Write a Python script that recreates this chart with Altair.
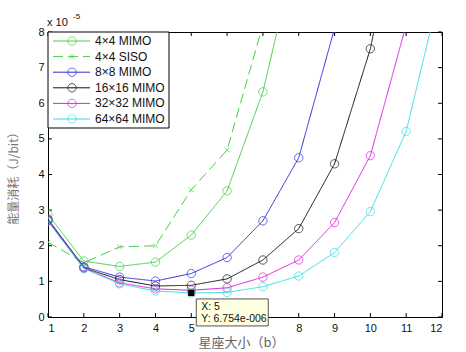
import altair as alt
import pandas as pd

# ---------------- data (values in units of 1e-5 J/bit) ----------------
x_vals = [1, 2, 3, 4, 5, 6, 7, 8, 9, 10, 11, 12]
series_names = ["4×4 MIMO", "4×4 SISO", "8×8 MIMO", "16×16 MIMO", "32×32 MIMO", "64×64 MIMO"]
series_colors = ["#44d044", "#44d044", "#2a2ae0", "#111111", "#e020e0", "#33e0e0"]
mimo4 = [2.88, 1.57, 1.42, 1.54, 2.30, 3.54, 6.32, 10.6]
siso4 = [2.10, 1.52, 1.97, 2.00, 3.57, 4.69, 8.2]
mimo8 = [2.75, 1.41, 1.12, 1.01, 1.22, 1.67, 2.70, 4.47, 8.1]
mimo16 = [2.72, 1.38, 1.05, 0.87, 0.89, 1.07, 1.60, 2.48, 4.30, 7.53, 12.5]
mimo32 = [2.70, 1.37, 0.96, 0.79, 0.75, 0.82, 1.12, 1.60, 2.65, 4.53, 8.2]
mimo64 = [2.68, 1.36, 0.93, 0.73, 0.675, 0.69, 0.85, 1.15, 1.81, 2.96, 5.21, 9.4]
series_values = [mimo4, siso4, mimo8, mimo16, mimo32, mimo64]
y_ticks = [0, 1, 2, 3, 4, 5, 6, 7, 8]
tip_x = 5
tip_y = 0.6754
tip_lines = ["X: 5", "Y: 6.754e-006"]

W, H = 394, 285
LABEL_FONT = "Liberation Sans"
CJK_FONT = "Noto Sans CJK SC"

xs = alt.Scale(domain=[1, 12], nice=False, zero=False)
ys = alt.Scale(domain=[0, 8], nice=False, zero=False)
cscale = alt.Scale(domain=series_names, range=series_colors)

x_axis = alt.Axis(values=x_vals, format="d", tickSize=0, labelPadding=5,
                  labelOverlap=False,
                  labelFont=LABEL_FONT, labelFontSize=11, labelColor="#111",
                  domainColor="#000", grid=False, zindex=0,
                  labelExpr="(datum.value == 6 || datum.value == 7) ? '' : datum.label",
                  title="星座大小（b）", titleFont=CJK_FONT, titleFontSize=13,
                  titleFontWeight="normal", titleColor="#666",
                  titleX=193, titleY=25, titleBaseline="middle", titleAlign="center")
y_axis = alt.Axis(values=y_ticks, format="d", tickSize=0, labelPadding=4,
                  labelOverlap=False,
                  labelFont=LABEL_FONT, labelFontSize=11, labelColor="#111",
                  domainColor="#000", grid=False, zindex=0,
                  title="能量消耗（J/bit）", titleFont=CJK_FONT, titleFontSize=12,
                  titleFontWeight="normal", titleColor="#777",
                  titleX=-35, titleY=143, titleAngle=270,
                  titleBaseline="middle", titleAlign="center")


def X(field="x"):
    return alt.X(f"{field}:Q", scale=xs, axis=x_axis)


def Y(field="y"):
    return alt.Y(f"{field}:Q", scale=ys, axis=y_axis)


layers = []

# inward ticks on all four sides
xt_df = pd.DataFrame({"x": x_vals})
yt_df = pd.DataFrame({"y": y_ticks})
layers.append(alt.Chart(xt_df).mark_rule(color="#000", strokeWidth=1).encode(
    x=X(), y=alt.value(H), y2=alt.value(H - 4)))
layers.append(alt.Chart(xt_df).mark_rule(color="#000", strokeWidth=1).encode(
    x=X(), y=alt.value(0), y2=alt.value(4)))
layers.append(alt.Chart(yt_df).mark_rule(color="#000", strokeWidth=1).encode(
    y=Y(), x=alt.value(0), x2=alt.value(4)))
layers.append(alt.Chart(yt_df).mark_rule(color="#000", strokeWidth=1).encode(
    y=Y(), x=alt.value(W), x2=alt.value(W - 4)))

# series
for name, vals in zip(series_names, series_values):
    df = pd.DataFrame({"x": x_vals[:len(vals)], "y": vals, "series": name})
    is_siso = "SISO" in name
    line = alt.Chart(df).mark_line(
        clip=True, strokeWidth=1, strokeDash=[10, 5] if is_siso else [1, 0]
    ).encode(
        x=X(), y=Y(),
        color=alt.Color("series:N", scale=cscale, legend=None),
    )
    if is_siso:
        pts = alt.Chart(df).mark_point(
            clip=True, filled=False, strokeWidth=1, size=22,
            shape="M-1,-1L1,1M-1,1L1,-1")
    else:
        pts = alt.Chart(df).mark_point(
            clip=True, filled=False, strokeWidth=1, size=70, shape="circle")
    pts = pts.encode(
        x=X(), y=Y(),
        color=alt.Color("series:N", scale=cscale, legend=None),
    )
    layers += [line, pts]

# legend box (manual, MATLAB-style)
leg_df = pd.DataFrame({"series": series_names, "idx": list(range(len(series_names)))})
layers.append(alt.Chart(pd.DataFrame({"a": [0]})).mark_rect(
    fill="white", stroke="#000", strokeWidth=1).encode(
    x=alt.value(0), x2=alt.value(121), y=alt.value(0), y2=alt.value(96)))
leg_base = alt.Chart(leg_df).transform_calculate(ly="9 + datum.idx * 15.6")
for name in series_names:
    is_siso = "SISO" in name
    sub = leg_base.transform_filter(alt.datum.series == name)
    layers.append(sub.mark_rule(strokeWidth=1, strokeDash=[10, 5] if is_siso else [1, 0]).encode(
        x=alt.value(5), x2=alt.value(42),
        y=alt.Y("ly:Q", scale=None),
        color=alt.Color("series:N", scale=cscale, legend=None)))
    if is_siso:
        mk = sub.mark_point(filled=False, strokeWidth=1, size=22, shape="M-1,-1L1,1M-1,1L1,-1")
    else:
        mk = sub.mark_point(filled=False, strokeWidth=1, size=70, shape="circle")
    layers.append(mk.encode(
        x=alt.value(24), y=alt.Y("ly:Q", scale=None),
        color=alt.Color("series:N", scale=cscale, legend=None)))
layers.append(leg_base.mark_text(
    align="left", baseline="middle", font=LABEL_FONT, fontSize=12, color="#111").encode(
    x=alt.value(47), y=alt.Y("ly:Q", scale=None), text="series:N"))

# exponent label
layers.append(alt.Chart(pd.DataFrame({"t": ["x 10"]})).mark_text(
    align="left", baseline="alphabetic", font=LABEL_FONT, fontSize=11, color="#111").encode(
    x=alt.value(-1), y=alt.value(-6), text="t:N"))
layers.append(alt.Chart(pd.DataFrame({"t": ["-5"]})).mark_text(
    align="left", baseline="alphabetic", font=LABEL_FONT, fontSize=8, color="#111").encode(
    x=alt.value(25), y=alt.value(-13), text="t:N"))

# data tip
tip_df = pd.DataFrame({"x": [tip_x], "y": [tip_y]})
layers.append(alt.Chart(tip_df).mark_rect(
    fill="#ffffe1", stroke="#555", strokeWidth=1, xOffset=5, x2Offset=77,
    yOffset=6, y2Offset=33).encode(
    x=X(), x2="x", y=Y(), y2="y"))
layers.append(alt.Chart(tip_df).mark_square(
    color="#000", size=40, opacity=1, clip=False).encode(
    x=X(), y=Y()))
for i, t in enumerate(tip_lines):
    layers.append(alt.Chart(tip_df.assign(t=t)).mark_text(
        align="left", baseline="middle", font=LABEL_FONT, fontSize=10.5, color="#111",
        dx=10, dy=14 + 12 * i).encode(
        x=X(), y=Y(), text="t:N"))

chart = alt.layer(*layers).properties(
    width=W, height=H,
    autosize=alt.AutoSizeParams(type="none"),
    padding={"left": 48, "top": 32, "right": 24, "bottom": 35},
    background="white",
).configure_view(stroke="#000", strokeWidth=1)

chart.save("out.html", embed_options={"renderer": "svg", "actions": False})
